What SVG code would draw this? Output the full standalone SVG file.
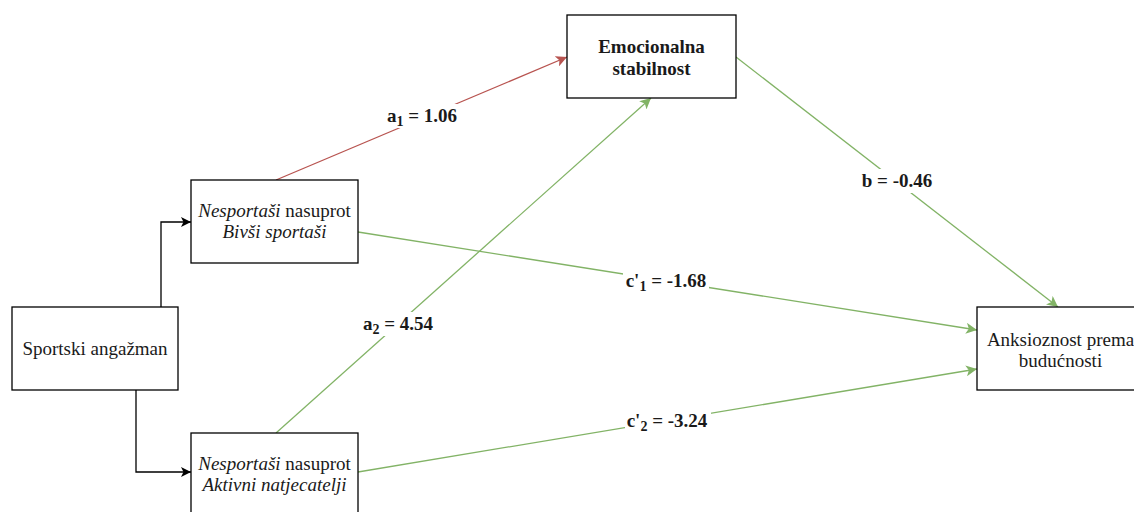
<svg xmlns="http://www.w3.org/2000/svg" width="1134" height="512" viewBox="0 0 1134 512">
<style>
.box{fill:#fff;stroke:#000;stroke-width:1.3}
.t{font-family:"Liberation Serif","Times New Roman",serif;font-size:19px;fill:#1a1a1a;text-anchor:middle}
.b{font-weight:bold}
.i{font-style:italic}
.lbl{font-family:"Liberation Serif","Times New Roman",serif;font-size:19px;font-weight:bold;fill:#1a1a1a;text-anchor:middle}
.bg{fill:#fff}
.k{fill:none;stroke:#000;stroke-width:1.3}
.r{fill:none;stroke:#b85450;stroke-width:1.3}
.g{fill:none;stroke:#82b366;stroke-width:1.3}
</style>
<defs>
<marker id="ak" viewBox="0 0 10 10" refX="10" refY="5" markerWidth="10" markerHeight="10" markerUnits="userSpaceOnUse" orient="auto"><path d="M0,0 L10,5 L0,10 L2.5,5 Z" fill="#000"/></marker>
<marker id="ar" viewBox="0 0 10 10" refX="10" refY="5" markerWidth="11" markerHeight="11" markerUnits="userSpaceOnUse" orient="auto"><path d="M0,0 L10,5 L0,10 L2.5,5 Z" fill="#b85450"/></marker>
<marker id="ag" viewBox="0 0 10 10" refX="10" refY="5" markerWidth="11" markerHeight="11" markerUnits="userSpaceOnUse" orient="auto"><path d="M0,0 L10,5 L0,10 L2.5,5 Z" fill="#82b366"/></marker>
</defs>
<g id="connectors">
<path class="k" d="M161,307 L161,222 L191,222" marker-end="url(#ak)"/>
<path class="k" d="M136,390 L136,472 L191,472" marker-end="url(#ak)"/>
<path class="r" d="M276,180 L567,57" marker-end="url(#ar)"/>
<path class="g" d="M276,433 L651,98" marker-end="url(#ag)"/>
<path class="g" d="M736,57 L1058,307" marker-end="url(#ag)"/>
<path class="g" d="M358,232 L977,330" marker-end="url(#ag)"/>
<path class="g" d="M358,472 L977,369" marker-end="url(#ag)"/>
<g id="labels">
<rect class="bg" x="385" y="104" width="74" height="24"/>
<text class="lbl" x="422" y="122">a<tspan font-size="14" dy="4">1</tspan><tspan dy="-4"> = 1.06</tspan></text>
<rect class="bg" x="363" y="312" width="72" height="24"/>
<text class="lbl" x="398" y="330">a<tspan font-size="14" dy="4">2</tspan><tspan dy="-4"> = 4.54</tspan></text>
<rect class="bg" x="623" y="269" width="86" height="24"/>
<text class="lbl" x="666" y="287">c'<tspan font-size="14" dy="4">1</tspan><tspan dy="-4"> = -1.68</tspan></text>
<rect class="bg" x="625" y="409" width="86" height="24"/>
<text class="lbl" x="667" y="427">c'<tspan font-size="14" dy="4">2</tspan><tspan dy="-4"> = -3.24</tspan></text>
<rect class="bg" x="860" y="169" width="76" height="24"/>
<text class="lbl" x="897" y="187">b = -0.46</text>
</g>
</g>
<g id="sportski">
<rect class="box" x="12" y="307" width="166" height="83"/>
<text class="t" x="95" y="355">Sportski angažman</text>
</g>
<g id="bivsi">
<rect class="box" x="191" y="180" width="167" height="83"/>
<text class="t" x="274.5" y="217"><tspan class="i">Nesportaši</tspan> nasuprot</text>
<text class="t i" x="274.5" y="238">Bivši sportaši</text>
</g>
<g id="aktivni">
<rect class="box" x="191" y="433" width="167" height="83"/>
<text class="t" x="274.5" y="470"><tspan class="i">Nesportaši</tspan> nasuprot</text>
<text class="t i" x="274.5" y="491">Aktivni natjecatelji</text>
</g>
<g id="emocionalna">
<rect class="box" x="567" y="15" width="169" height="83"/>
<text class="t b" x="651.5" y="53">Emocionalna</text>
<text class="t b" x="651.5" y="75">stabilnost</text>
</g>
<g id="anksioznost">
<rect class="box" x="977" y="307" width="167" height="83"/>
<text class="t" x="1060.5" y="346">Anksioznost prema</text>
<text class="t" x="1060.5" y="367">budućnosti</text>
</g>
</svg>
